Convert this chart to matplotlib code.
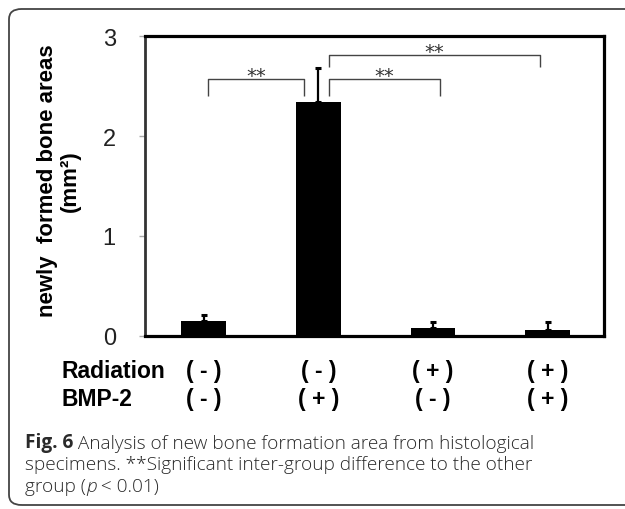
import matplotlib
matplotlib.use("Agg")
import matplotlib.pyplot as plt
from matplotlib.patches import FancyBboxPatch
import matplotlib.transforms as mtransforms

# ---- data ----
groups = ["G1", "G2", "G3", "G4"]
values = [0.153, 2.337, 0.077, 0.063]
errors = [0.060, 0.343, 0.066, 0.074]
radiation = ["( - )", "( - )", "( + )", "( + )"]
bmp2 = ["( - )", "( + )", "( - )", "( + )"]
row_labels = ["Radiation", "BMP-2"]
yticks = [0, 1, 2, 3]
# brackets: (x_start, x_end, y_top, y_leg_bottom)
brackets = [(0.04, 0.875, 2.57, 2.40), (1.09, 2.06, 2.57, 2.40), (1.09, 2.93, 2.81, 2.69)]
bracket_labels = ["**", "**", "**"]

plt.rcParams["font.family"] = ["Liberation Sans", "DejaVu Sans"]

W, H = 625, 510
fig = plt.figure(figsize=(W / 100, H / 100), dpi=100)

def fx(px):
    return px / W

def fy(py):
    return 1 - py / H

# outer rounded frame
frame = FancyBboxPatch((fx(9), fy(506)), fx(660) - fx(9), fy(10) - fy(506),
                       boxstyle="round,pad=0,rounding_size=0.02",
                       transform=fig.transFigure, facecolor="none",
                       edgecolor="#444444", linewidth=1.3, zorder=0)
fig.patches.append(frame)

ax = fig.add_axes([fx(145), fy(337), fx(604) - fx(145), fy(37) - fy(337)])
x = list(range(len(groups)))
ax.bar(x, values, width=0.39, color="black", zorder=2)
ax.errorbar(x, values, yerr=[[0] * len(errors), errors], fmt="none",
            ecolor="black", elinewidth=1.6, capsize=2.4, capthick=2.2, zorder=3)

ax.set_xlim(-0.51, 3.49)
ax.set_ylim(0, 3)
ax.set_xticks([])
ax.set_yticks(yticks)
ax.tick_params(axis="y", direction="out", length=4, width=1, color="#aaaaaa",
               pad=17, labelsize=17, labelcolor="#222222")

for side in ["top", "right", "bottom"]:
    ax.spines[side].set_linewidth(2.3)
    ax.spines[side].set_color("black")
ax.spines["left"].set_linewidth(2.0)
ax.spines["left"].set_color("#333333")

for (x0, x1, yt, yb), lab in zip(brackets, bracket_labels):
    ax.plot([x0, x0, x1, x1], [yb, yt, yt, yb], color="#444444", lw=1.0,
            zorder=1, solid_capstyle="butt")
    ax.text((x0 + x1) / 2, yt + 0.035, lab, ha="center", va="center",
            fontsize=14, color="#333333", family="DejaVu Sans")

# y label
fig.text(fx(59), fy(181), "newly  formed bone areas\n(mm²)", rotation=90,
         ha="center", va="center", multialignment="center",
         fontsize=16, fontweight="bold", linespacing=1.15)

# condition rows
trans = mtransforms.blended_transform_factory(ax.transData, fig.transFigure)
for row_y, row_lab, row_vals in [(372, row_labels[0], radiation), (400, row_labels[1], bmp2)]:
    fig.text(fx(61), fy(row_y), row_lab, ha="left", va="center",
             fontsize=16.5, fontweight="bold")
    for xi, v in zip(x, row_vals):
        ax.text(xi, fy(row_y), v, transform=trans, ha="center", va="center",
                fontsize=16.5, fontweight="bold")

# caption
cap_fs = 13.7
cap_kw = dict(fontsize=cap_fs, family="Open Sans", color="#2a2a2a")
t1 = fig.text(fx(25), fy(448), "Fig. 6", ha="left", va="baseline",
              fontweight="bold", **cap_kw)
ax.annotate(" Analysis of new bone formation area from histological",
            xy=(1, 0), xycoords=t1, xytext=(0, 0), textcoords="offset points",
            ha="left", va="bottom", fontweight="light", annotation_clip=False, **cap_kw)
fig.text(fx(25), fy(470), "specimens. **Significant inter-group difference to the other",
         ha="left", va="baseline", fontweight="light", **cap_kw)
t3 = fig.text(fx(25), fy(492), "group (", ha="left", va="baseline",
              fontweight="light", **cap_kw)
t4 = ax.annotate("p", xy=(1, 0), xycoords=t3, xytext=(0, 0), textcoords="offset points",
                 ha="left", va="bottom", fontstyle="italic", fontweight="light",
                 annotation_clip=False, **cap_kw)
ax.annotate(" < 0.01)", xy=(1, 0), xycoords=t4, xytext=(0, 0), textcoords="offset points",
            ha="left", va="bottom", fontweight="light", annotation_clip=False, **cap_kw)

fig.savefig("out.png", dpi=100)
